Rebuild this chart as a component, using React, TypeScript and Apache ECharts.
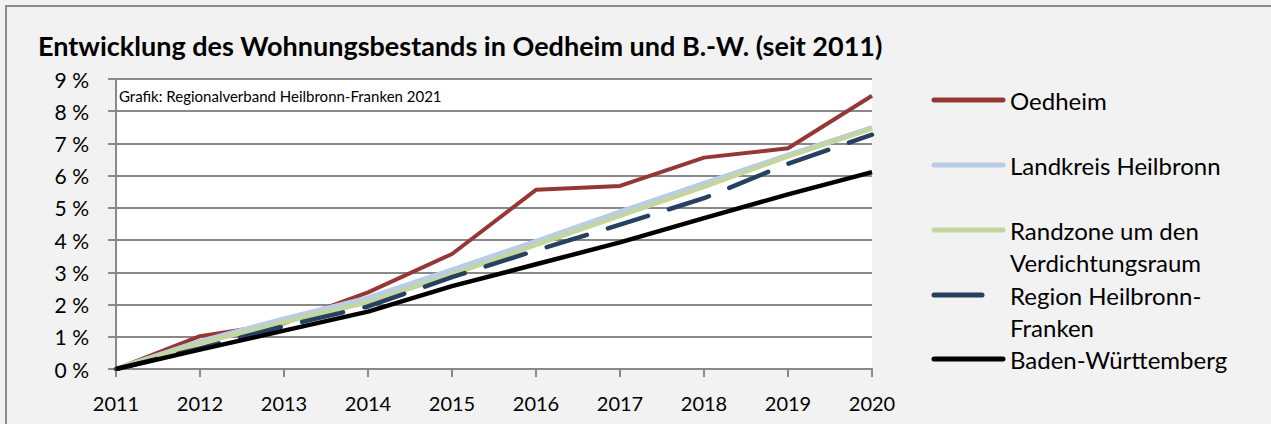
import React, { useEffect, useRef } from "react";
import * as echarts from "echarts";

const years = ["2011", "2012", "2013", "2014", "2015", "2016", "2017", "2018", "2019", "2020"];
const oedheim = [0, 1.02, 1.42, 2.38, 3.57, 5.56, 5.68, 6.56, 6.85, 8.48];
const landkreis = [0, 0.85, 1.55, 2.2, 3.07, 3.95, 4.87, 5.75, 6.63, 7.48];
const randzone = [0, 0.8, 1.45, 2.07, 2.93, 3.85, 4.75, 5.65, 6.6, 7.46];
const region = [0, 0.64, 1.33, 1.94, 2.85, 3.68, 4.48, 5.3, 6.37, 7.27];
const bw = [0, 0.6, 1.19, 1.78, 2.57, 3.25, 3.93, 4.68, 5.42, 6.11];

const seriesNames = [
  "Oedheim",
  "Landkreis Heilbronn",
  "Randzone um den\nVerdichtungsraum",
  "Region Heilbronn-\nFranken",
  "Baden-Württemberg",
];
const colors = ["#953735", "#b9cde5", "#c3d69b", "#254061", "#000000"];
const yTicks = [0, 9, 1];

const FONT = "Lato, 'Open Sans', sans-serif";

export default function App() {
  const ref = useRef<HTMLDivElement>(null);
  useEffect(() => {
    if (!ref.current) return;
    const chart = echarts.init(ref.current, null, { renderer: "svg" });
    const dataSets = [oedheim, landkreis, randzone, region, bw];
    const widths = [4, 5.5, 4.5, 4.5, 4.5];
    const legendY = [100, 165, 230, 295, 359];
    const graphics: any[] = [
      {
        type: "rect",
        silent: true,
        shape: { x: 6, y: 6, width: 1300, height: 450 },
        style: { fill: "#f2f2f2", stroke: "#8c8c8c", lineWidth: 2 },
        z: -10,
      },
      {
        type: "text",
        x: 119,
        y: 96,
        style: {
          text: "Grafik: Regionalverband Heilbronn-Franken 2021",
          fontSize: 15,
          fontFamily: FONT,
          fill: "#000",
          verticalAlign: "middle",
        },
        z: 10,
      },
    ];
    seriesNames.forEach((n, i) => {
      graphics.push({
        type: "line",
        shape: { x1: 934, y1: legendY[i], x2: 1003, y2: legendY[i] },
        style: {
          stroke: colors[i],
          lineWidth: 5,
          lineCap: "round",
          lineDash: i === 3 ? [48, 40] : null,
        },
      });
      graphics.push({
        type: "text",
        x: 1010,
        y: legendY[i] - 16,
        style: {
          text: n,
          fontSize: 24,
          fontFamily: FONT,
          fill: "#000",
          lineHeight: 32,
          verticalAlign: "top",
        },
      });
    });
    chart.setOption({
      animation: false,
      backgroundColor: "transparent",
      title: {
        text: "Entwicklung des Wohnungsbestands in Oedheim und B.-W. (seit 2011)",
        left: 33,
        top: 27,
        textStyle: { fontSize: 27, fontWeight: "bold", fontFamily: FONT, color: "#000" },
      },
      legend: { show: false },
      grid: { left: 116, right: 399, top: 79, bottom: 55, backgroundColor: "#ffffff", show: true, borderWidth: 0 },
      xAxis: {
        type: "category",
        data: years,
        boundaryGap: false,
        axisLine: { lineStyle: { color: "#898989", width: 2 } },
        axisTick: { show: true, length: 8, lineStyle: { color: "#898989", width: 2 } },
        axisLabel: { fontSize: 20, fontFamily: FONT, color: "#000", margin: 24 },
        splitLine: { show: false },
      },
      yAxis: {
        type: "value",
        min: yTicks[0],
        max: yTicks[1],
        interval: yTicks[2],
        axisLine: { show: true, lineStyle: { color: "#898989", width: 2 } },
        axisTick: { show: true, length: 8, lineStyle: { color: "#898989", width: 2 } },
        axisLabel: { fontSize: 21, fontFamily: FONT, color: "#000", margin: 27, formatter: (v: number) => `${v} %` },
        splitLine: { show: true, lineStyle: { color: "#898989", width: 2 } },
      },
      series: seriesNames.map((n, i) => ({
        name: n,
        type: "line",
        data: dataSets[i],
        symbol: "none",
        z: 2 + i,
        lineStyle: {
          color: colors[i],
          width: widths[i],
          type: i === 3 ? [42, 22] : "solid",
          cap: i === 3 ? "round" : "butt",
          join: "round",
        },
      })),
      graphic: graphics,
    });
    return () => chart.dispose();
  }, []);
  return (
    <div
      ref={ref}
      style={{ position: "fixed", left: 0, top: 0, width: 1271, height: 424, background: "#f2f2f2" }}
    />
  );
}
